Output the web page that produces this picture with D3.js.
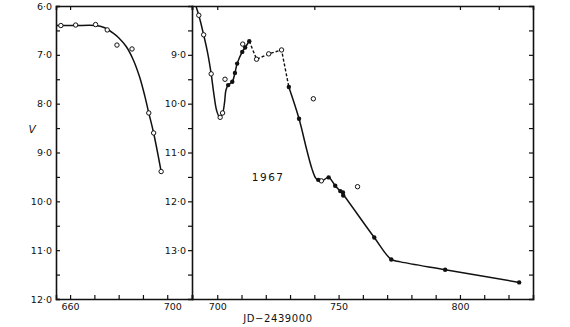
<!DOCTYPE html>
<html>
<head>
<meta charset="utf-8">
<script src="https://cdn.jsdelivr.net/npm/d3@7"></script>
<style>
  body { margin: 0; background: #fff; }
  svg { display: block; }
  .axis text { font-family: "DejaVu Sans", sans-serif; font-size: 9.5px; fill: #111; }
  .axis path, .axis line { stroke: #111; }
  .axis path { stroke-width: 1.6; }
  .axis line { stroke-width: 1.2; }
</style>
</head>
<body>
<div class="canva"></div>
<script>
// light curve of the nova, 1967 -- V against JD-2439000

// left panel (early, pre-maximum)
const openLeft = [[656.2,6.40],[662.3,6.39],[670.5,6.38],[675.3,6.49],[679.3,6.80],
                  [685.5,6.88],[692.4,8.19],[694.4,8.60],[697.5,9.39]];
const curveLeft = [[654.5,6.40],[662,6.40],[670.5,6.40],[674,6.44],[677.6,6.55],[680,6.65],
                   [683.1,6.83],[686,7.10],[688.6,7.45],[690.8,7.85],[692.4,8.19],[694.4,8.60],[697.5,9.39]];

// right panel
const openRight = [[692.4,8.19],[694.4,8.59],[697.5,9.39],[701.2,10.28],[702.2,10.19],[703.2,9.50],
                   [710.5,8.78],[716.2,9.09],[721.2,8.98],[726.5,8.90],[739.6,9.90],[742.9,11.58],[757.8,11.70]];
const filledRight = [[704.5,9.62],[706.2,9.55],[707.3,9.37],[708.2,9.18],[710.3,8.94],[711.5,8.85],[713.2,8.72],
                     [729.5,9.66],[733.7,10.31],[741.6,11.56],[745.9,11.51],[748.6,11.68],[750.7,11.79],
                     [751.8,11.82],[751.9,11.88],[764.7,12.74],[771.7,13.19],[793.9,13.40],[824.4,13.66]];
const curveRight1 = [[691.2,8.0],[692.4,8.19],[694.4,8.59],[696,8.95],[697.5,9.39],[698.6,9.80],[699.8,10.15],
                     [701.1,10.29],[702.3,10.18],[703.0,9.98],[703.6,9.72],[704.5,9.62],[706.2,9.55],[707.3,9.37],
                     [708.2,9.18],[710.3,8.94],[711.5,8.85],[713.2,8.72]];
const dashedRight = [[713.2,8.72],[716.2,9.09],[721.2,8.98],[726.5,8.90],[729.5,9.66]];
const curveRight2 = [[729.5,9.66],[733.7,10.31],[736.9,10.95],[739,11.33],[740.5,11.52],[741.6,11.57],
                     [742.9,11.59],[745.9,11.51],[748.6,11.68],[750.7,11.79],[751.9,11.86],[764.7,12.74],
                     [771.7,13.19],[775.5,13.24],[793.9,13.40],[824.4,13.66]];

// tick labels
const leftYLabels = [6,7,8,9,10,11,12];
const rightYLabels = [9,10,11,12,13];
const leftXLabels = [660,700];
const rightXLabels = [700,750,800];

const W = 570, H = 327;
const svg = d3.select('.canva').append('svg').attr('width', W).attr('height', H);

const yTop = 6, yBot = 299, x0 = 56, xMid = 192, x1 = 533;
const xL = d3.scaleLinear().domain([654.2, 710.2]).range([x0, xMid]);
const xR = d3.scaleLinear().domain([689.6, 830.1]).range([xMid, x1]);
const yL = d3.scaleLinear().domain([6, 12]).range([yTop, yBot]);
const yR = d3.scaleLinear().domain([8, 14]).range([yTop, yBot]);

const fmt = d => d3.format('.1f')(d).replace('.', '\u00b7');
const halves = (a, b) => d3.range(a, b + 0.01, 0.5);

// clip for the panels
const defs = svg.append('defs');
defs.append('clipPath').attr('id', 'clipL').append('rect')
    .attr('x', x0).attr('y', yTop).attr('width', xMid - x0).attr('height', yBot - yTop);
defs.append('clipPath').attr('id', 'clipR').append('rect')
    .attr('x', xMid).attr('y', yTop).attr('width', x1 - xMid).attr('height', yBot - yTop);

// axes - left panel
svg.append('g').attr('class', 'axis').attr('transform', `translate(${x0},0)`)
    .call(d3.axisLeft(yL).tickValues(halves(6, 12)).tickSize(-4).tickPadding(4)
        .tickFormat(d => leftYLabels.includes(d) ? fmt(d) : ''));
svg.append('g').attr('class', 'axis').attr('transform', `translate(0,${yBot})`)
    .call(d3.axisBottom(xL).tickValues(d3.range(660, 701, 10)).tickSize(-4).tickPadding(4)
        .tickFormat(d => leftXLabels.includes(d) ? d : ''))
    .selectAll('text').attr('dx', d => d === 700 ? 5 : 0);
svg.append('g').attr('class', 'axis').attr('transform', `translate(0,${yTop})`)
    .call(d3.axisTop(xL).tickValues([660]).tickSize(-4).tickFormat(''));

// axes - right panel
svg.append('g').attr('class', 'axis').attr('transform', `translate(${xMid},0)`)
    .call(d3.axisLeft(yR).tickValues(halves(8.5, 13.5)).tickSize(4).tickPadding(2)
        .tickFormat(d => rightYLabels.includes(d) ? fmt(d) : ''));
svg.append('g').attr('class', 'axis').attr('transform', `translate(${x1},0)`)
    .call(d3.axisRight(yR).tickValues(halves(8.5, 13.5)).tickSize(-4).tickFormat(''));
svg.append('g').attr('class', 'axis').attr('transform', `translate(0,${yBot})`)
    .call(d3.axisBottom(xR).tickValues(d3.range(700, 821, 10)).tickSize(-4).tickPadding(4)
        .tickFormat(d => rightXLabels.includes(d) ? d : ''));
svg.append('g').attr('class', 'axis').attr('transform', `translate(0,${yTop})`)
    .call(d3.axisTop(xR).tickValues([700, 740, 800, 816]).tickSize(-4).tickFormat(''));

// curves
const lineL = d3.line().x(d => xL(d[0])).y(d => yL(d[1])).curve(d3.curveCatmullRom.alpha(0.5));
const lineR = d3.line().x(d => xR(d[0])).y(d => yR(d[1])).curve(d3.curveCatmullRom.alpha(0.5));
const lineRstraight = d3.line().x(d => xR(d[0])).y(d => yR(d[1]));

svg.append('path').attr('clip-path', 'url(#clipL)').attr('d', lineL(curveLeft))
    .attr('fill', 'none').attr('stroke', '#111').attr('stroke-width', 1.5);
svg.append('path').attr('clip-path', 'url(#clipR)').attr('d', lineR(curveRight1))
    .attr('fill', 'none').attr('stroke', '#111').attr('stroke-width', 1.5);
svg.append('path').attr('d', lineRstraight(dashedRight))
    .attr('fill', 'none').attr('stroke', '#111').attr('stroke-width', 1.4).attr('stroke-dasharray', '3,2');
svg.append('path').attr('d', lineR(curveRight2))
    .attr('fill', 'none').attr('stroke', '#111').attr('stroke-width', 1.5);

// points
svg.append('g').selectAll('circle').data(openLeft).join('circle')
    .attr('cx', d => xL(d[0])).attr('cy', d => yL(d[1])).attr('r', 2.2)
    .attr('fill', '#fff').attr('stroke', '#111').attr('stroke-width', 1);
svg.append('g').selectAll('circle').data(openRight).join('circle')
    .attr('cx', d => xR(d[0])).attr('cy', d => yR(d[1])).attr('r', 2.2)
    .attr('fill', '#fff').attr('stroke', '#111').attr('stroke-width', 1);
svg.append('g').selectAll('circle').data(filledRight).join('circle')
    .attr('cx', d => xR(d[0])).attr('cy', d => yR(d[1])).attr('r', 2.2)
    .attr('fill', '#111');

// labels
svg.append('text').attr('x', 32).attr('y', yL(8.6)).text('V')
    .attr('font-family', '"DejaVu Sans", sans-serif').attr('font-style', 'italic')
    .attr('font-size', 10.5).attr('text-anchor', 'middle').attr('fill', '#111');
svg.append('text').attr('x', xR(721)).attr('y', yR(11.58)).text('1967')
    .attr('font-family', '"DejaVu Sans", sans-serif').attr('font-size', 10.5)
    .attr('letter-spacing', 1.5).attr('text-anchor', 'middle').attr('fill', '#111');
svg.append('text').attr('x', xR(725)).attr('y', 322).text('JD\u22122439000')
    .attr('font-family', '"DejaVu Sans", sans-serif').attr('font-size', 10)
    .attr('letter-spacing', 0.6).attr('text-anchor', 'middle').attr('fill', '#111');
</script>
</body>
</html>
